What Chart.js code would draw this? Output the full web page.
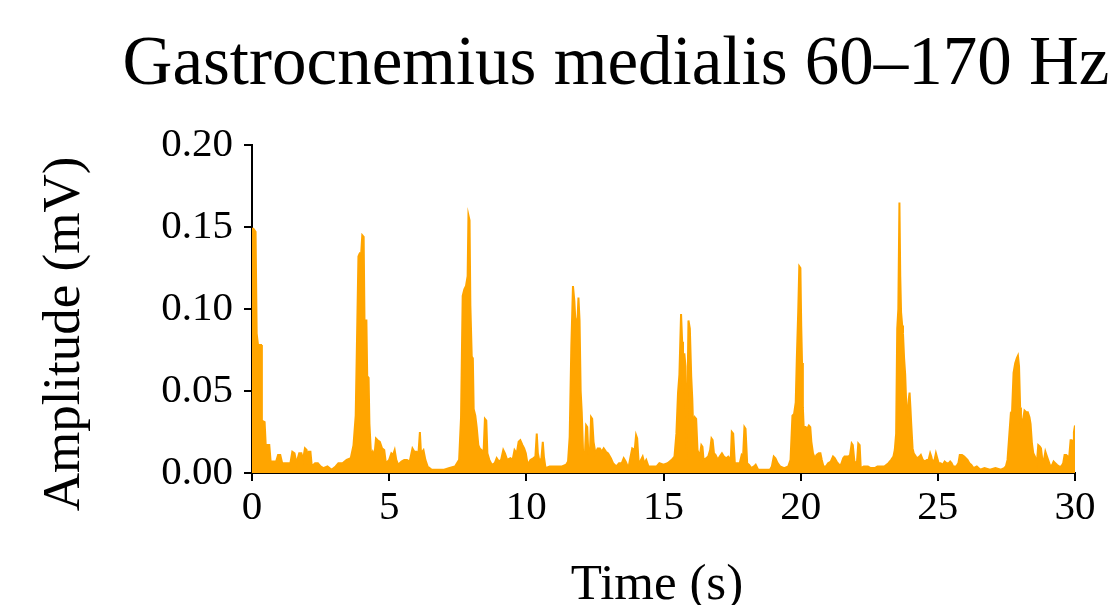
<!DOCTYPE html>
<html>
<head>
    <meta charset="utf-8">
    <script src="https://cdn.jsdelivr.net/npm/chart.js"></script>
    <style>
        body { margin: 0; background: #fff; }
    </style>
</head>
<body>
    <canvas id="emgChart" width="1120" height="605"></canvas>

    <script>
        // Textos
        const titleText = 'Gastrocnemius medialis 60–170 Hz';
        const xLabel = 'Time (s)';
        const yLabel = 'Amplitude (mV)';

        // Ticks
        const xTicks = [0, 5, 10, 15, 20, 25, 30];
        const yTicks = [0.00, 0.05, 0.10, 0.15, 0.20];

        // Envolvente: tiempo (s)
        const timeS = [
            0.00, 0.05, 0.13, 0.17, 0.22, 0.33, 0.36, 0.46, 0.50, 0.63, 0.68, 0.88, 0.95, 1.03, 1.10, 1.40,
            1.47, 1.55, 1.62, 1.72, 1.80, 1.86, 1.93, 1.99, 2.02, 2.07, 2.13, 2.18, 2.30, 2.40, 2.50, 2.60,
            2.75, 2.90, 3.05, 3.15, 3.30, 3.45, 3.60, 3.70, 3.78, 3.84, 3.88, 3.93, 3.98, 4.02, 4.07, 4.10,
            4.17, 4.20, 4.25, 4.28, 4.34, 4.40, 4.46, 4.52, 4.58, 4.66, 4.74, 4.82, 4.88, 5.00, 5.08, 5.14,
            5.20, 5.26, 5.33, 5.45, 5.55, 5.65, 5.75, 5.85, 5.92, 6.00, 6.06, 6.12, 6.16, 6.25, 6.32, 6.40,
            6.55, 6.80, 7.00, 7.20, 7.40, 7.55, 7.62, 7.68, 7.74, 7.80, 7.86, 7.89, 7.93, 7.96, 8.01, 8.05,
            8.08, 8.14, 8.19, 8.25, 8.30, 8.37, 8.44, 8.49, 8.54, 8.58, 8.65, 8.74, 8.85, 8.92, 9.00, 9.08,
            9.16, 9.22, 9.30, 9.42, 9.50, 9.57, 9.65, 9.72, 9.78, 9.86, 9.92, 9.98, 10.05, 10.15, 10.25, 10.33,
            10.38, 10.42, 10.48, 10.55, 10.60, 10.64, 10.70, 10.85, 11.00, 11.15, 11.30, 11.45, 11.52, 11.58, 11.64, 11.70,
            11.75, 11.80, 11.87, 11.90, 11.94, 11.98, 12.02, 12.07, 12.14, 12.18, 12.22, 12.26, 12.32, 12.36, 12.40, 12.45,
            12.52, 12.60, 12.68, 12.75, 12.82, 12.90, 12.98, 13.08, 13.16, 13.28, 13.38, 13.48, 13.55, 13.62, 13.72, 13.80,
            13.86, 13.95, 14.00, 14.04, 14.10, 14.18, 14.24, 14.30, 14.37, 14.45, 14.60, 14.75, 14.85, 15.00, 15.15, 15.30,
            15.40, 15.47, 15.53, 15.58, 15.64, 15.68, 15.71, 15.76, 15.80, 15.84, 15.87, 15.91, 15.96, 16.01, 16.05, 16.08,
            16.14, 16.19, 16.24, 16.32, 16.38, 16.42, 16.46, 16.55, 16.63, 16.70, 16.75, 16.79, 16.84, 16.90, 16.98, 17.05,
            17.13, 17.20, 17.29, 17.36, 17.45, 17.49, 17.54, 17.60, 17.70, 17.78, 17.85, 17.90, 17.95, 17.99, 18.05, 18.12,
            18.20, 18.30, 18.36, 18.45, 18.60, 18.75, 18.88, 18.95, 19.02, 19.08, 19.16, 19.25, 19.40, 19.55, 19.63, 19.70,
            19.76, 19.82, 19.86, 19.91, 19.95, 19.99, 20.02, 20.05, 20.08, 20.11, 20.18, 20.24, 20.30, 20.35, 20.39, 20.45,
            20.52, 20.58, 20.66, 20.72, 20.77, 20.83, 20.92, 21.00, 21.10, 21.18, 21.24, 21.31, 21.40, 21.47, 21.55, 21.60,
            21.68, 21.74, 21.80, 21.86, 21.90, 21.96, 22.05, 22.10, 22.15, 22.19, 22.30, 22.45, 22.55, 22.70, 22.80, 22.95,
            23.05, 23.20, 23.30, 23.38, 23.43, 23.48, 23.52, 23.56, 23.60, 23.63, 23.66, 23.70, 23.73, 23.77, 23.81, 23.85,
            23.90, 23.94, 23.97, 24.00, 24.03, 24.08, 24.12, 24.20, 24.25, 24.33, 24.38, 24.45, 24.52, 24.60, 24.66, 24.72,
            24.76, 24.80, 24.88, 24.93, 24.98, 25.03, 25.10, 25.18, 25.25, 25.32, 25.40, 25.45, 25.50, 25.56, 25.67, 25.75,
            25.80, 25.88, 25.96, 26.02, 26.08, 26.15, 26.22, 26.30, 26.42, 26.55, 26.70, 26.90, 27.10, 27.30, 27.42, 27.48,
            27.54, 27.60, 27.66, 27.70, 27.76, 27.82, 27.88, 27.92, 27.96, 28.00, 28.03, 28.07, 28.11, 28.16, 28.22, 28.28,
            28.34, 28.38, 28.43, 28.48, 28.54, 28.61, 28.66, 28.72, 28.76, 28.81, 28.86, 28.92, 28.96, 29.02, 29.10, 29.17,
            29.22, 29.28, 29.34, 29.42, 29.50, 29.57, 29.62, 29.68, 29.74, 29.78, 29.84, 29.88, 29.93, 29.96, 30.00
        ];

        // Envolvente: amplitud (mV)
        const amplitudeMV = [
            0.149, 0.149, 0.147, 0.085, 0.078, 0.078, 0.032, 0.031, 0.017, 0.017, 0.007, 0.007, 0.011, 0.011, 0.006, 0.006,
            0.013, 0.012, 0.006, 0.012, 0.012, 0.008, 0.015, 0.014, 0.009, 0.013, 0.013, 0.004, 0.006, 0.006, 0.004, 0.003,
            0.004, 0.002, 0.004, 0.006, 0.006, 0.008, 0.009, 0.017, 0.035, 0.093, 0.132, 0.134, 0.134, 0.145, 0.144, 0.093,
            0.093, 0.059, 0.058, 0.030, 0.011, 0.013, 0.010, 0.021, 0.020, 0.019, 0.015, 0.014, 0.006, 0.008, 0.012, 0.011,
            0.014, 0.008, 0.005, 0.007, 0.008, 0.008, 0.007, 0.015, 0.013, 0.013, 0.010, 0.025, 0.012, 0.014, 0.008, 0.004,
            0.002, 0.002, 0.002, 0.003, 0.004, 0.008, 0.034, 0.108, 0.112, 0.114, 0.120, 0.157, 0.154, 0.102, 0.071, 0.070,
            0.039, 0.035, 0.028, 0.017, 0.015, 0.014, 0.012, 0.033, 0.032, 0.012, 0.008, 0.005, 0.006, 0.009, 0.007, 0.008,
            0.014, 0.012, 0.008, 0.009, 0.008, 0.014, 0.012, 0.019, 0.020, 0.017, 0.015, 0.012, 0.005, 0.008, 0.009, 0.010,
            0.024, 0.012, 0.007, 0.009, 0.019, 0.010, 0.003, 0.004, 0.004, 0.004, 0.004, 0.005, 0.007, 0.022, 0.077, 0.114,
            0.105, 0.089, 0.095, 0.107, 0.093, 0.050, 0.037, 0.012, 0.013, 0.029, 0.028, 0.012, 0.013, 0.034, 0.033, 0.019,
            0.012, 0.015, 0.015, 0.013, 0.015, 0.013, 0.012, 0.009, 0.006, 0.004, 0.006, 0.006, 0.009, 0.007, 0.003, 0.010,
            0.015, 0.014, 0.023, 0.021, 0.005, 0.008, 0.010, 0.006, 0.008, 0.004, 0.004, 0.004, 0.006, 0.005, 0.006, 0.008,
            0.010, 0.024, 0.049, 0.060, 0.097, 0.080, 0.049, 0.073, 0.065, 0.008, 0.040, 0.093, 0.088, 0.059, 0.045, 0.028,
            0.034, 0.033, 0.014, 0.010, 0.017, 0.016, 0.008, 0.009, 0.010, 0.014, 0.021, 0.020, 0.012, 0.011, 0.008, 0.010,
            0.012, 0.010, 0.009, 0.010, 0.008, 0.025, 0.024, 0.006, 0.006, 0.006, 0.011, 0.010, 0.028, 0.027, 0.006, 0.005,
            0.003, 0.004, 0.005, 0.002, 0.002, 0.002, 0.002, 0.004, 0.010, 0.009, 0.006, 0.004, 0.003, 0.004, 0.008, 0.035,
            0.036, 0.043, 0.070, 0.098, 0.126, 0.125, 0.090, 0.067, 0.040, 0.028, 0.028, 0.027, 0.029, 0.028, 0.019, 0.012,
            0.009, 0.011, 0.012, 0.012, 0.008, 0.004, 0.004, 0.006, 0.007, 0.010, 0.009, 0.007, 0.005, 0.005, 0.009, 0.010,
            0.010, 0.010, 0.011, 0.018, 0.017, 0.007, 0.006, 0.018, 0.017, 0.003, 0.004, 0.004, 0.003, 0.003, 0.004, 0.004,
            0.004, 0.006, 0.008, 0.010, 0.014, 0.024, 0.088, 0.100, 0.165, 0.120, 0.098, 0.090, 0.085, 0.070, 0.060, 0.041,
            0.037, 0.045, 0.049, 0.040, 0.030, 0.015, 0.012, 0.010, 0.009, 0.010, 0.011, 0.008, 0.007, 0.008, 0.008, 0.012,
            0.010, 0.007, 0.008, 0.012, 0.009, 0.006, 0.006, 0.005, 0.007, 0.006, 0.006, 0.007, 0.006, 0.004, 0.004, 0.006,
            0.011, 0.011, 0.010, 0.009, 0.008, 0.006, 0.005, 0.003, 0.004, 0.002, 0.003, 0.002, 0.003, 0.002, 0.003, 0.004,
            0.008, 0.022, 0.036, 0.035, 0.061, 0.067, 0.070, 0.0715, 0.065, 0.040, 0.030, 0.032, 0.033, 0.038, 0.037, 0.037,
            0.034, 0.030, 0.018, 0.012, 0.010, 0.006, 0.017, 0.016, 0.015, 0.008, 0.007, 0.013, 0.011, 0.008, 0.004, 0.005,
            0.007, 0.006, 0.005, 0.004, 0.004, 0.006, 0.011, 0.011, 0.010, 0.008, 0.020, 0.020, 0.019, 0.025, 0.029
        ];

        const fontFamily = "'Liberation Serif', 'DejaVu Serif', serif";
        Chart.defaults.font.family = fontFamily;
        Chart.defaults.color = '#000';

        // Titulo y etiquetas de ejes en posiciones fijas
        const axisText = {
            id: 'axisText',
            afterDraw(chart) {
                const c = chart.ctx;
                c.save();
                c.fillStyle = '#000';
                c.textAlign = 'center';
                c.textBaseline = 'alphabetic';
                c.font = '69px ' + fontFamily;
                c.fillText(titleText, 616, 84);
                c.font = '51px ' + fontFamily;
                c.fillText(xLabel, 657, 599);
                c.font = '53px ' + fontFamily;
                c.translate(79, 334);
                c.rotate(-Math.PI / 2);
                c.fillText(yLabel, 0, 0);
                c.restore();
            }
        };

        const points = timeS.map((t, i) => ({ x: t, y: amplitudeMV[i] }));

        const ctx = document.getElementById('emgChart').getContext('2d');

        const myChart = new Chart(ctx, {
            type: 'line',
            data: {
                datasets: [{
                    label: 'GM 60-170 Hz',
                    data: points,
                    borderColor: '#ffa500',
                    backgroundColor: '#ffa500',
                    borderWidth: 2,
                    fill: 'origin',
                    pointRadius: 0,
                    tension: 0
                }]
            },
            plugins: [axisText],
            options: {
                responsive: false,
                animation: false,
                devicePixelRatio: 1,
                layout: {
                    padding: { top: 145, right: 45, left: 0, bottom: 0 }
                },
                plugins: {
                    legend: { display: false },
                    tooltip: { enabled: false }
                },
                scales: {
                    x: {
                        type: 'linear',
                        min: 0,
                        max: 30,
                        afterFit: (s) => { s.height = 132; },
                        afterBuildTicks: (s) => { s.ticks = xTicks.map(v => ({ value: v })); },
                        ticks: {
                            font: { size: 41 },
                            padding: 3,
                            maxRotation: 0,
                            callback: (v) => String(v)
                        },
                        grid: {
                            drawOnChartArea: false,
                            drawTicks: true,
                            tickLength: 8,
                            color: '#000',
                            lineWidth: 2
                        },
                        border: { display: true, color: '#000', width: 2 }
                    },
                    y: {
                        min: 0,
                        max: 0.2,
                        afterFit: (s) => { s.width = 252; },
                        afterBuildTicks: (s) => { s.ticks = yTicks.map(v => ({ value: v })); },
                        ticks: {
                            font: { size: 41 },
                            padding: 11,
                            callback: (v) => v.toFixed(2)
                        },
                        grid: {
                            drawOnChartArea: false,
                            drawTicks: true,
                            tickLength: 8,
                            color: '#000',
                            lineWidth: 2
                        },
                        border: { display: true, color: '#000', width: 2 }
                    }
                }
            }
        });
    </script>
</body>
</html>
